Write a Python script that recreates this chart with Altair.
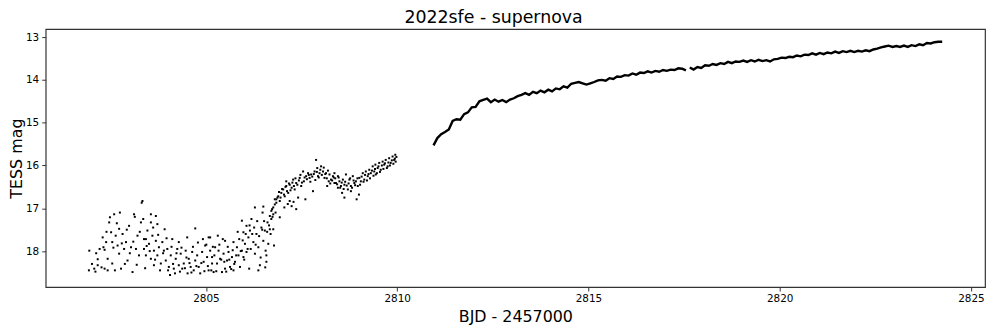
import altair as alt
import pandas as pd

# ---- values (BJD-2457000, TESS mag) ----
early_points = [
    (2801.95, 17.99), (2801.94, 18.45), (2802.08, 18.41), (2802.11, 18.48), (2802.17, 18.19),
    (2802.17, 18.33), (2802.30, 17.68), (2802.32, 17.91), (2802.35, 17.97), (2802.39, 17.79),
    (2802.35, 18.41), (2802.43, 18.18), (2802.43, 18.45), (2802.47, 17.33), (2802.49, 17.21),
    (2802.52, 17.56), (2802.55, 17.79), (2802.55, 18.29), (2802.60, 17.14), (2802.64, 17.64),
    (2802.69, 17.87), (2802.73, 17.48), (2802.75, 17.10), (2802.73, 18.06), (2802.78, 18.41),
    (2802.82, 17.60), (2802.86, 17.95), (2802.91, 17.79), (2802.95, 18.22), (2802.99, 17.41),
    (2803.04, 17.91), (2803.08, 18.49), (2803.12, 17.14), (2803.14, 17.20), (2803.17, 17.95),
    (2803.21, 17.64), (2803.25, 18.10), (2803.30, 17.33), (2803.32, 16.87), (2803.34, 16.83),
    (2803.38, 17.72), (2803.38, 17.95), (2803.43, 18.10), (2803.47, 17.52),
    (2803.56, 17.14), (2803.69, 17.18), (2803.56, 17.33), (2803.73, 17.37), (2803.43, 17.72),
    (2803.51, 17.83), (2803.56, 18.18), (2803.60, 17.64), (2803.64, 17.99), (2803.64, 18.33),
    (2803.69, 17.76), (2803.73, 18.10), (2803.77, 17.91), (2803.82, 18.29), (2803.86, 17.79),
    (2803.90, 17.99), (2803.92, 17.49), (2803.95, 18.22), (2803.99, 17.95), (2804.03, 18.37),
    (2804.06, 18.56), (2804.08, 18.10), (2804.12, 17.72), (2804.16, 18.41), (2804.21, 18.18),
    (2804.25, 17.95), (2804.29, 17.79), (2804.29, 18.33), (2804.34, 18.06), (2804.38, 18.41),
    (2804.42, 18.29), (2804.47, 17.99), (2804.51, 17.68), (2804.52, 18.52), (2804.55, 18.18),
    (2804.60, 18.37), (2804.64, 18.02), (2804.68, 18.45), (2804.72, 17.47), (2804.72, 18.22),
    (2804.77, 18.10), (2804.81, 18.37), (2804.85, 18.52), (2804.90, 18.02), (2804.92, 17.72),
    (2804.94, 18.25), (2804.98, 17.87), (2805.03, 18.14), (2805.07, 17.68), (2805.07, 18.45),
    (2805.11, 17.99), (2805.16, 18.29),
    (2805.11, 17.68), (2805.16, 18.14), (2805.20, 18.49), (2805.24, 17.91), (2805.29, 18.29),
    (2805.31, 17.64), (2805.33, 17.99), (2805.37, 18.18), (2805.42, 18.49), (2805.46, 18.06),
    (2805.50, 17.76), (2805.50, 18.41), (2805.55, 18.22), (2805.59, 18.02), (2805.63, 18.37),
    (2805.68, 18.14), (2805.72, 17.79), (2805.72, 18.45), (2805.76, 18.25), (2805.81, 17.91),
    (2805.85, 18.10), (2805.87, 17.72), (2805.89, 18.37), (2805.94, 17.29), (2805.94, 17.99),
    (2805.98, 17.56), (2805.98, 18.14), (2806.02, 17.83), (2806.06, 17.41), (2806.06, 18.02),
    (2806.11, 17.68), (2806.13, 18.41), (2806.15, 17.52), (2806.17, 17.95), (2806.19, 17.25),
    (2806.24, 17.79), (2806.28, 16.98), (2806.28, 18.06), (2806.32, 17.60), (2806.37, 17.91),
    (2806.41, 18.33), (2806.37, 18.45), (2806.45, 17.45), (2806.48, 17.10), (2806.50, 16.96),
    (2806.50, 17.76), (2806.54, 17.52), (2806.56, 17.99), (2806.58, 18.25), (2806.61, 17.33),
    (2806.63, 17.83), (2806.67, 17.18), (2806.71, 17.06), (2806.76, 16.98), (2806.76, 17.49),
    (2806.78, 17.87), (2806.80, 16.79), (2806.84, 16.87), (2806.87, 16.75), (2806.58, 18.10),
    (2806.55, 18.38),
    (2806.67, 17.49), (2806.71, 17.25), (2806.73, 17.02), (2806.76, 17.14), (2806.80, 16.91),
    (2806.84, 16.79), (2806.89, 16.72), (2806.93, 16.83), (2806.93, 17.21), (2806.97, 16.64),
    (2807.02, 16.56), (2807.05, 16.98), (2807.06, 16.72), (2807.10, 16.37), (2807.10, 16.48),
    (2807.15, 16.64), (2807.19, 16.83), (2807.19, 16.45), (2807.24, 16.52), (2807.24, 16.95),
    (2807.28, 16.33), (2807.32, 16.56), (2807.36, 17.02), (2807.36, 16.41), (2807.41, 16.75),
    (2807.45, 16.29), (2807.49, 16.48), (2807.54, 16.14), (2807.56, 16.37), (2807.60, 16.79),
    (2807.62, 16.25), (2807.67, 16.18), (2807.71, 16.29), (2807.75, 16.21), (2807.80, 16.60),
    (2807.84, 16.14), (2807.88, 15.87), (2807.91, 16.06), (2807.93, 16.25), (2807.97, 16.18),
    (2808.01, 16.02), (2808.06, 16.14), (2808.10, 16.29), (2808.14, 16.18), (2808.17, 16.48),
    (2808.21, 16.37), (2808.23, 16.21), (2808.27, 16.33), (2808.32, 16.25), (2808.36, 16.41),
    (2808.36, 16.18), (2808.40, 16.41), (2808.45, 16.25), (2808.45, 16.52), (2808.49, 16.37),
    (2808.53, 16.48), (2808.56, 16.64), (2808.58, 16.33), (2808.62, 16.75), (2808.62, 16.45),
    (2808.66, 16.21), (2808.71, 16.56), (2808.75, 16.33), (2808.79, 16.48), (2808.79, 16.60),
    (2808.84, 16.25), (2808.88, 16.41), (2808.92, 16.37), (2808.94, 16.79), (2808.97, 16.48),
    (2809.00, 16.68), (2809.01, 16.29), (2809.05, 16.37), (2809.10, 16.18), (2809.14, 16.33),
    (2809.18, 16.14), (2809.23, 16.25), (2809.27, 16.10), (2809.31, 16.18), (2809.36, 16.02),
    (2809.40, 16.14), (2809.43, 15.98), (2809.44, 16.21), (2809.49, 16.06), (2809.53, 15.94),
    (2809.57, 16.10), (2809.62, 15.91), (2809.66, 15.98), (2809.70, 15.87), (2809.75, 16.02),
    (2809.79, 15.83), (2809.83, 15.94), (2809.88, 15.79), (2809.92, 15.87), (2809.95, 15.75),
    (2809.96, 15.91),
]

extra_points = [
    (2808.38, 16.30), (2808.43, 16.44), (2808.47, 16.28), (2808.51, 16.52), (2808.55, 16.40),
    (2808.60, 16.55), (2808.64, 16.38), (2808.68, 16.47), (2808.73, 16.42), (2808.77, 16.30),
    (2808.82, 16.52), (2808.86, 16.35), (2808.90, 16.46), (2808.96, 16.30), (2809.03, 16.45),
    (2809.07, 16.26), (2809.12, 16.38), (2809.16, 16.22), (2809.21, 16.35), (2809.25, 16.20),
    (2809.29, 16.30), (2809.34, 16.12), (2809.38, 16.24), (2809.42, 16.08), (2809.47, 16.18),
    (2809.51, 16.02), (2809.55, 16.15), (2809.60, 16.00), (2809.64, 16.08), (2809.68, 15.95),
    (2809.73, 16.06), (2809.77, 15.93), (2809.81, 16.00), (2809.86, 15.88), (2809.90, 15.96),
    (2809.94, 15.84), (2809.98, 15.80),
    (2807.64, 16.32), (2807.69, 16.22), (2807.73, 16.38), (2807.78, 16.26), (2807.82, 16.20),
    (2807.86, 16.34), (2807.90, 16.15), (2807.95, 16.28), (2807.99, 16.10), (2808.03, 16.22),
    (2808.08, 16.05), (2808.12, 16.20), (2808.16, 16.30), (2808.19, 16.12), (2808.25, 16.42),
    (2808.30, 16.35), (2808.34, 16.28),
    (2806.91, 16.62), (2806.95, 16.75), (2806.99, 16.55), (2807.04, 16.68), (2807.08, 16.50),
    (2807.12, 16.60), (2807.17, 16.42), (2807.21, 16.58), (2807.26, 16.40), (2807.30, 16.48),
    (2807.34, 16.30), (2807.39, 16.45), (2807.43, 16.35), (2807.47, 16.22), (2807.51, 16.40),
    (2807.58, 16.28), (2807.14, 16.90), (2807.29, 16.85),
    (2802.02, 18.30), (2802.13, 18.05), (2802.22, 17.95), (2802.27, 18.38), (2802.40, 17.55),
    (2802.58, 17.92), (2802.62, 18.45), (2802.67, 17.35), (2802.80, 17.82), (2802.88, 18.30),
    (2802.93, 17.50), (2803.01, 18.05), (2803.10, 17.78), (2803.19, 18.32), (2803.27, 17.55),
    (2803.36, 17.25), (2803.41, 18.40), (2803.45, 17.88), (2803.53, 18.00), (2803.62, 17.45),
    (2803.67, 18.20), (2803.75, 17.62), (2803.80, 18.45), (2803.88, 18.05), (2803.97, 17.70),
    (2804.01, 18.45), (2804.10, 17.90), (2804.14, 18.30), (2804.19, 18.52), (2804.23, 18.05),
    (2804.32, 18.48), (2804.36, 17.92), (2804.45, 18.40), (2804.49, 18.15), (2804.57, 18.28),
    (2804.62, 18.50), (2804.66, 17.90), (2804.75, 18.35), (2804.79, 17.80), (2804.88, 18.28),
    (2804.96, 18.47), (2805.01, 17.85), (2805.05, 18.35), (2805.14, 18.45), (2805.18, 17.90),
    (2805.22, 18.10), (2805.27, 18.47), (2805.35, 17.85), (2805.40, 18.20), (2805.44, 17.72),
    (2805.48, 18.25), (2805.53, 18.48), (2805.57, 17.90), (2805.61, 18.20), (2805.66, 18.42),
    (2805.70, 17.98), (2805.74, 18.30), (2805.79, 18.10), (2805.83, 17.55), (2805.91, 18.00),
    (2805.96, 17.75), (2806.00, 18.20), (2806.04, 17.60), (2806.09, 17.95), (2806.14, 17.40),
    (2806.21, 17.60), (2806.26, 17.45), (2806.30, 17.85), (2806.34, 17.30), (2806.39, 17.65),
    (2806.43, 18.15), (2806.47, 17.50), (2806.52, 17.30), (2806.60, 17.55), (2806.65, 17.40),
    (2806.69, 17.60), (2806.74, 17.20), (2806.82, 17.10),
]

rise_seg1 = [
    (2810.95, 15.53), (2811.05, 15.36), (2811.15, 15.27), (2811.25, 15.22), (2811.35, 15.16),
    (2811.45, 14.96), (2811.55, 14.92), (2811.65, 14.93), (2811.75, 14.80), (2811.85, 14.76),
    (2811.95, 14.64), (2812.05, 14.63), (2812.15, 14.50), (2812.25, 14.47), (2812.35, 14.44),
    (2812.45, 14.52), (2812.55, 14.46), (2812.65, 14.51), (2812.75, 14.47), (2812.85, 14.52),
    (2812.95, 14.46), (2813.05, 14.43), (2813.15, 14.38), (2813.25, 14.35), (2813.35, 14.31),
    (2813.45, 14.35), (2813.55, 14.28), (2813.65, 14.31), (2813.75, 14.25), (2813.85, 14.29),
    (2813.95, 14.23), (2814.05, 14.27), (2814.15, 14.20), (2814.25, 14.22), (2814.35, 14.15),
    (2814.45, 14.18), (2814.55, 14.09), (2814.65, 14.07), (2814.75, 14.05), (2814.85, 14.08),
    (2814.95, 14.11), (2815.05, 14.08), (2815.15, 14.05), (2815.25, 14.01), (2815.35, 14.00),
    (2815.45, 14.02), (2815.55, 13.96), (2815.65, 13.98), (2815.75, 13.92), (2815.85, 13.93),
    (2815.95, 13.89), (2816.05, 13.90), (2816.15, 13.85), (2816.25, 13.88), (2816.35, 13.83),
    (2816.45, 13.84), (2816.55, 13.80), (2816.65, 13.83), (2816.75, 13.79), (2816.85, 13.81),
    (2816.95, 13.77), (2817.05, 13.79), (2817.15, 13.76), (2817.25, 13.77), (2817.35, 13.73),
    (2817.45, 13.74), (2817.55, 13.78),
]

rise_seg2 = [
    (2817.65, 13.71), (2817.75, 13.76), (2817.85, 13.70), (2817.95, 13.72), (2818.05, 13.66),
    (2818.15, 13.67), (2818.25, 13.63), (2818.35, 13.65), (2818.45, 13.61), (2818.55, 13.63),
    (2818.65, 13.58), (2818.75, 13.61), (2818.85, 13.57), (2818.95, 13.58), (2819.05, 13.55),
    (2819.15, 13.58), (2819.25, 13.54), (2819.35, 13.57), (2819.45, 13.53), (2819.55, 13.56),
    (2819.65, 13.54), (2819.75, 13.57), (2819.85, 13.52), (2819.95, 13.51), (2820.05, 13.48),
    (2820.15, 13.49), (2820.25, 13.46), (2820.35, 13.47), (2820.45, 13.43), (2820.55, 13.45),
    (2820.65, 13.41), (2820.75, 13.42), (2820.85, 13.38), (2820.95, 13.41), (2821.05, 13.37),
    (2821.15, 13.40), (2821.25, 13.36), (2821.35, 13.38), (2821.45, 13.34), (2821.55, 13.37),
    (2821.65, 13.33), (2821.75, 13.35), (2821.85, 13.32), (2821.95, 13.35), (2822.05, 13.32),
    (2822.15, 13.34), (2822.25, 13.31), (2822.35, 13.33), (2822.45, 13.29), (2822.55, 13.27),
    (2822.65, 13.24), (2822.75, 13.22), (2822.85, 13.20), (2822.95, 13.23), (2823.05, 13.21),
    (2823.15, 13.23), (2823.25, 13.20), (2823.35, 13.23), (2823.45, 13.19), (2823.55, 13.21),
    (2823.65, 13.17), (2823.75, 13.19), (2823.85, 13.14), (2823.95, 13.15), (2824.05, 13.12),
    (2824.15, 13.11), (2824.25, 13.11),
]

x_ticks = [2805, 2810, 2815, 2820, 2825]
y_ticks = [13, 14, 15, 16, 17, 18]
title_text = "2022sfe - supernova"
x_title = "BJD - 2457000"
y_title = "TESS mag"

early_df = pd.DataFrame(early_points + extra_points, columns=["t", "mag"])
rise_df = pd.concat([
    pd.DataFrame(rise_seg1, columns=["t", "mag"]).assign(seg="a"),
    pd.DataFrame(rise_seg2, columns=["t", "mag"]).assign(seg="b"),
])

FONT = "DejaVu Sans"

x_enc = alt.X(
    "t:Q",
    scale=alt.Scale(domain=[2800.81, 2825.37], nice=False, zero=False),
    axis=alt.Axis(values=x_ticks, title=x_title, format="d", titlePadding=4),
)
y_enc = alt.Y(
    "mag:Q",
    scale=alt.Scale(domain=[12.815, 18.84], nice=False, zero=False, reverse=True),
    axis=alt.Axis(values=y_ticks, title=y_title, format="d", titlePadding=1),
)

pts = alt.Chart(early_df).mark_square(size=4, color="black", opacity=1).encode(x=x_enc, y=y_enc)
line = alt.Chart(rise_df).mark_line(color="black", strokeWidth=2.4).encode(
    x=x_enc, y=y_enc, detail="seg:N"
)

chart = (
    alt.layer(pts, line)
    .properties(
        width=947,
        height=260,
        title=alt.TitleParams(
            title_text, fontSize=17.5, font=FONT, fontWeight="normal", color="black",
            offset=3, dx=-22,
        ),
        autosize=alt.AutoSizeParams(type="none"),
        padding={"left": 38, "top": 20, "right": 4, "bottom": 44},
    )
    .configure_view(stroke="#333333", strokeWidth=1.2)
    .configure_axis(
        grid=False,
        domain=False,
        tickColor="#333333",
        tickSize=4,
        labelFont=FONT,
        labelFontSize=10.5,
        labelColor="black",
        labelPadding=3,
        titleFont=FONT,
        titleFontSize=16,
        titleFontWeight="normal",
        titleColor="black",
    )
)

chart.save("out.html", embed_options={"renderer": "svg", "actions": False})
